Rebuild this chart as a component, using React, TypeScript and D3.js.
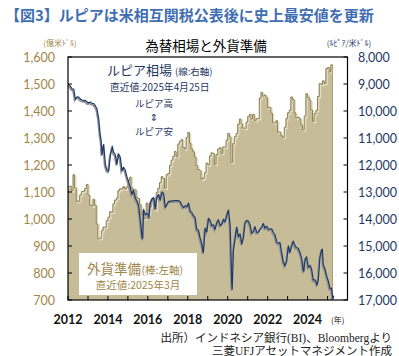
import React from "react";
import * as d3 from "d3";

// ---- data ----
const reserveStart = "2012-01";
// Foreign reserves, 億米ドル, monthly from 2012-01 to 2025-03
const reserves2012 = [1120, 1122, 1105, 1164, 1115, 1065, 1066, 1089, 1102, 1103, 1113, 1128];
const reserves2013 = [1088, 1052, 1048, 1073, 1051, 981, 927, 930, 957, 970, 970, 994];
const reserves2014 = [1007, 1027, 1026, 1056, 1070, 1077, 1105, 1112, 1112, 1120, 1111, 1119];
const reserves2015 = [1142, 1155, 1116, 1109, 1108, 1080, 1076, 1053, 1017, 1007, 1002, 1059];
const reserves2016 = [1021, 1045, 1075, 1077, 1036, 1098, 1114, 1135, 1157, 1150, 1115, 1164];
const reserves2017 = [1169, 1199, 1218, 1232, 1250, 1231, 1278, 1288, 1294, 1265, 1260, 1302];
const reserves2018 = [1320, 1281, 1260, 1249, 1229, 1198, 1183, 1179, 1148, 1152, 1172, 1207];
const reserves2019 = [1201, 1233, 1245, 1243, 1203, 1238, 1259, 1264, 1243, 1267, 1266, 1292];
const reserves2020 = [1317, 1304, 1210, 1279, 1305, 1317, 1351, 1370, 1352, 1337, 1336, 1359];
const reserves2021 = [1380, 1388, 1371, 1388, 1364, 1371, 1373, 1448, 1469, 1455, 1459, 1449];
const reserves2022 = [1413, 1414, 1391, 1357, 1356, 1364, 1322, 1322, 1308, 1302, 1340, 1372];
const reserves2023 = [1394, 1403, 1452, 1442, 1393, 1375, 1377, 1371, 1349, 1331, 1381, 1464];
const reserves2024 = [1451, 1440, 1404, 1362, 1390, 1402, 1454, 1502, 1499, 1512, 1502, 1557];
const reserves2025 = [1561, 1545, 1571];

// Rupiah per USD, monthly (mid-month) from 2012-01
const fx2012 = [9000, 9085, 9180, 9190, 9565, 9480, 9485, 9560, 9590, 9615, 9605, 9670];
const fx2013 = [9698, 9667, 9719, 9722, 9802, 9929, 10278, 10924, 11613, 11234, 11977, 12189];
const fx2014 = [12226, 11634, 11404, 11532, 11611, 11969, 11591, 11717, 12212, 12082, 12196, 12440];
const fx2015 = [12625, 12863, 13084, 12937, 13211, 13332, 13481, 14027, 14657, 13639, 13840, 13795];
const fx2016 = [13846, 13395, 13276, 13204, 13615, 13180, 13094, 13300, 12998, 13051, 13563, 13473];
const fx2017 = [13343, 13347, 13326, 13327, 13321, 13319, 13323, 13351, 13492, 13572, 13514, 13548];
const fx2018 = [13413, 13707, 13756, 13877, 13951, 14404, 14413, 14711, 14929, 15203, 14339, 14481];
const fx2019 = [13976, 14062, 14244, 14215, 14385, 14141, 14026, 14237, 14195, 14008, 14102, 13866];
const fx2020 = [13662, 14234, 16367, 15157, 14733, 14302, 14653, 14554, 14918, 14690, 14128, 14050];
const fx2021 = [14084, 14229, 14525, 14468, 14285, 14496, 14491, 14374, 14307, 14171, 14340, 14269];
const fx2022 = [14381, 14371, 14365, 14500, 14583, 14848, 14903, 14875, 15247, 15597, 15737, 15573];
const fx2023 = [14992, 15240, 14994, 14818, 14990, 15066, 15083, 15237, 15455, 15916, 15510, 15399];
const fx2024 = [15789, 15715, 15853, 16260, 16251, 16375, 16260, 15413, 15140, 15702, 15853, 16102];
const fx2025 = [16305, 16575, 16560];
// intramonth extremes and latest value
const fxExtraDates = [
  "2013-08-28", "2014-03-20", "2015-09-29", "2016-01-20", "2018-10-11",
  "2020-03-23", "2022-10-25", "2023-10-26", "2024-06-21", "2024-09-27",
  "2025-04-09", "2025-04-25",
];
const fxExtraValues = [
  11050, 11300, 14730, 13950, 15250,
  16600, 15620, 15930, 16450, 15120,
  16970, 16835,
];

const leftTicks = [700, 800, 900, 1000, 1100, 1200, 1300, 1400, 1500, 1600];
const rightTicks = [8000, 9000, 10000, 11000, 12000, 13000, 14000, 15000, 16000, 17000];
const yearTicks = [2012, 2014, 2016, 2018, 2020, 2022, 2024];

const title = "【図3】ルピアは米相互関税公表後に史上最安値を更新";
const subtitle = "為替相場と外貨準備";

// ---- build series ----
const reserveValues = [
  ...reserves2012, ...reserves2013, ...reserves2014, ...reserves2015, ...reserves2016,
  ...reserves2017, ...reserves2018, ...reserves2019, ...reserves2020, ...reserves2021,
  ...reserves2022, ...reserves2023, ...reserves2024, ...reserves2025,
];
const fxMonthly = [
  ...fx2012, ...fx2013, ...fx2014, ...fx2015, ...fx2016, ...fx2017, ...fx2018,
  ...fx2019, ...fx2020, ...fx2021, ...fx2022, ...fx2023, ...fx2024, ...fx2025,
];
const parseMonth = d3.timeParse("%Y-%m");
const parseDay = d3.timeParse("%Y-%m-%d");
const start = parseMonth(reserveStart) as Date;

const reserveData = reserveValues.map((v, i) => ({ date: d3.timeMonth.offset(start, i), v }));
reserveData.push({ date: d3.timeMonth.offset(start, reserveValues.length), v: reserveValues[reserveValues.length - 1] });

const fxData = [
  ...fxMonthly.map((v, i) => ({ date: d3.timeDay.offset(d3.timeMonth.offset(start, i), i === 0 ? 0 : 14), v })),
  ...fxExtraDates.map((d, i) => ({ date: parseDay(d) as Date, v: fxExtraValues[i] })),
].sort((a, b) => +a.date - +b.date);

// ---- layout ----
const W = 399, H = 356;
const L = 68, R = 347.5, T = 57, B = 300;
const x = d3.scaleTime().domain([new Date(2012, 0, 1), new Date(2026, 0, 1)]).range([L, R]);
const yL = d3.scaleLinear().domain([700, 1600]).range([B, T]);
const yR = d3.scaleLinear().domain([8000, 17000]).range([T, B]);

const navy = "#1f3864";
const gold = "#a08648";
const tan = "#c6bc98";
const jp = "'Noto Sans CJK JP', sans-serif";
const num = "Lato, 'Open Sans', sans-serif";

export default function App() {
  const area = d3.area<{ date: Date; v: number }>()
    .x((d) => x(d.date)).y0(B).y1((d) => yL(d.v)).curve(d3.curveStepAfter);
  const areaLine = d3.line<{ date: Date; v: number }>()
    .x((d) => x(d.date)).y((d) => yL(d.v)).curve(d3.curveStepAfter);
  const fxLine = d3.line<{ date: Date; v: number }>()
    .x((d) => x(d.date)).y((d) => yR(d.v)).curve(d3.curveLinear);
  const fmt = d3.format(",");
  const last = reserveData[reserveData.length - 1];

  return (
    <svg width={W} height={H} style={{ position: "absolute", left: 0, top: 0, background: "#fff" }}>
      <defs>
        <clipPath id="plot"><rect x={L} y={T} width={R - L} height={B - T} /></clipPath>
      </defs>
      <text x={5} y={21} fontFamily={jp} fontWeight="bold" fontSize={15} fill="#3f6fb2">{title}</text>
      <text x={206} y={51} textAnchor="middle" fontFamily={jp} fontSize={13.5} fill="#000">{subtitle}</text>
      <text x={60} y={46} textAnchor="middle" fontFamily={jp} fontSize={8} fill={gold}>(億米ﾄﾞﾙ)</text>
      <text x={349} y={46} textAnchor="middle" fontFamily={jp} fontSize={8} fill={navy}>(ﾙﾋﾟｱ/米ﾄﾞﾙ)</text>

      <g clipPath="url(#plot)">
        <path d={area(reserveData) || ""} fill={tan} />
        <path d={areaLine(reserveData) || ""} fill="none" stroke="#e4dec8" strokeWidth={1.2} transform="translate(1.3,1.3)" />
        <path d={areaLine(reserveData) || ""} fill="none" stroke="#8c8150" strokeWidth={1} />
        <line x1={x(last.date)} x2={x(last.date)} y1={yL(last.v)} y2={B} stroke="#a89e75" strokeWidth={1} />
        <path d={fxLine(fxData) || ""} fill="none" stroke="#8f9196" strokeWidth={1.6} transform="translate(-0.8,1.4)" />
        <path d={fxLine(fxData) || ""} fill="none" stroke={navy} strokeWidth={1.2} strokeLinejoin="round" />
      </g>

      {/* frame */}
      <rect x={L} y={T} width={R - L} height={B - T} fill="none" stroke="#000" strokeWidth={1.2} />
      {leftTicks.map((t) => (
        <g key={"l" + t}>
          <line x1={L} x2={L + 4} y1={yL(t)} y2={yL(t)} stroke="#000" />
          <text x={55} y={yL(t) + 4.5} textAnchor="end" fontFamily={num} fontSize={12.5} fill={gold}>{fmt(t)}</text>
        </g>
      ))}
      {rightTicks.map((t) => (
        <g key={"r" + t}>
          <line x1={R - 4} x2={R} y1={yR(t)} y2={yR(t)} stroke="#000" />
          <text x={358} y={yR(t) + 4.5} fontFamily={num} fontSize={12.5} fill={navy}>{fmt(t)}</text>
        </g>
      ))}
      {d3.range(2012, 2027).map((yr) => (
        <line key={"t" + yr} x1={x(new Date(yr, 0, 1))} x2={x(new Date(yr, 0, 1))} y1={B} y2={B - 4} stroke="#000" />
      ))}
      {yearTicks.map((yr) => (
        <text key={"y" + yr} x={x(new Date(yr, 0, 1))} y={324} textAnchor="middle" fontFamily={num} fontWeight="bold" fontSize={12.5} fill="#111">{yr}</text>
      ))}
      <text x={331} y={323} fontFamily={jp} fontSize={8} fill="#111">(年)</text>

      {/* rupiah legend */}
      <text x={107} y={75} fontFamily={jp} fontSize={13} fill={navy}>ルピア相場</text>
      <text x={175} y={75} fontFamily={jp} fontSize={9.5} fill={navy}>(線:右軸)</text>
      <text x={110} y={90.5} fontFamily={jp} fontSize={9.8} fill={navy}>直近値:2025年4月25日</text>
      <text x={154} y={107} textAnchor="middle" fontFamily={jp} fontSize={9.5} fill={navy}>ルピア高</text>
      <text x={154} y={121} textAnchor="middle" fontFamily="'DejaVu Sans', sans-serif" fontSize={10} fill={navy}>⇕</text>
      <text x={154} y={135} textAnchor="middle" fontFamily={jp} fontSize={9.5} fill={navy}>ルピア安</text>

      {/* reserves legend */}
      <rect x={79} y={253} width={118} height={42} fill="#fff" />
      <text x={87} y={274} fontFamily={jp} fontSize={13.5} fill={gold}>外貨準備</text>
      <text x={141.5} y={274} fontFamily={jp} fontSize={10.5} fill={gold}>(棒:左軸)</text>
      <text x={138} y={289} textAnchor="middle" fontFamily={jp} fontSize={10.5} fill={gold}>直近値:2025年3月</text>

      {/* source */}
      <text x={392} y={342} textAnchor="end" fontFamily={"'Liberation Serif', " + jp} fontSize={11.5} fill="#222">出所）インドネシア銀行(BI)、Bloombergより</text>
      <text x={392} y={355} textAnchor="end" fontFamily={"'Liberation Serif', " + jp} fontSize={11.5} fill="#222">三菱UFJアセットマネジメント作成</text>
    </svg>
  );
}
